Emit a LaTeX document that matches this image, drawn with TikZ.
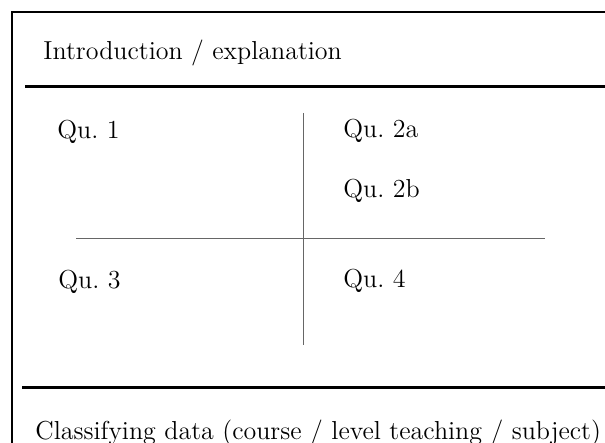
\documentclass[tikz,border=0pt]{standalone}
\usepackage{tikz}
\usetikzlibrary{positioning}
\frenchspacing
\tikzset{font={\fontsize{13pt}{15}\selectfont}}
\tikzstyle{texte-std}=[anchor=base west,inner sep=0pt]
\tikzstyle{trait-epais}=[line width=1.5pt,black]
\tikzstyle{trait-fin}=[line width=0.5pt,black!60]

\begin{document}
\begin{tikzpicture}[x=0.5pt,y=-0.5pt]
            \useasboundingbox (0,0) rectangle (605,443);
            \clip (0,0) rectangle (605,443);
            % cadre
            \draw[line width=0.8pt] (12,12) rectangle (640,480);
            %
            \node[texte-std] (intro) at (43,60) {Introduction / explanation};
            \node[texte-std] (classe) at (35,439) {Classifying data (course / level teaching / subject)};

            \coordinate (h1-g) at (25,87);
            \coordinate (h1-d) at (605,87);
            \coordinate (h2-g) at (22,387);
            \coordinate (h2-d) at (605,387);
            \draw[trait-epais] (h1-g) -- (h1-d);
            \draw[trait-epais] (h2-g) -- (h2-d);

            \coordinate (v-h) at (303,113);
            \coordinate (v-b) at (303,345);
            \coordinate (m-g) at (76,239);
            \coordinate (m-d) at (545,239);
            \draw[trait-fin] (v-h) -- (v-b);
            \draw[trait-fin] (m-g) -- (m-d);

            \node[texte-std] (qu1) at (57,139) {Qu. 1};
            \node[texte-std] (qu2a) at (343,138) {Qu. 2a};
            \node[texte-std] (qu2b) at (343,198) {Qu. 2b};
            \node[texte-std] (qu3) at (58,289) {Qu. 3};
            \node[texte-std] (qu4) at (343,287) {Qu. 4};
        \end{tikzpicture}
\end{document}
